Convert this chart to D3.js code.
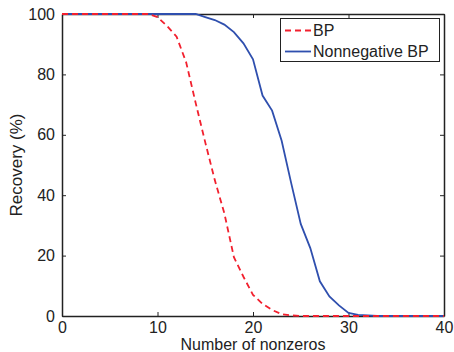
<!DOCTYPE html>
<html>
<head>
<meta charset="utf-8">
<script src="https://cdn.jsdelivr.net/npm/d3@7"></script>
<style>
  body { margin: 0; background: #fff; }
  text { font-family: "Liberation Sans", Arial, sans-serif; fill: #222; }
</style>
</head>
<body>
<div id="chart"></div>
<script>
// Chart values
const nonzeros = d3.range(0, 41);
const bpRecovery = [100, 100, 100, 100, 100, 100, 100, 100, 100, 100,
    99, 96, 92.5, 84, 70.5, 57.5, 45, 34, 19.5, 13,
    7, 4, 2, 0.6, 0.2, 0, 0, 0, 0, 0,
    0, 0, 0, 0, 0, 0, 0, 0, 0, 0, 0];
const nnbpRecovery = [100, 100, 100, 100, 100, 100, 100, 100, 100, 100,
    100, 100, 100, 100, 100, 99, 98, 96.5, 94, 90.3,
    85, 73, 68, 58, 44, 30.5, 22.5, 11.5, 6.5, 3.5,
    1, 0.4, 0.2, 0, 0, 0, 0, 0, 0, 0, 0];
const xTicks = [0, 10, 20, 30, 40];
const yTicks = [0, 20, 40, 60, 80, 100];
const seriesNames = ["BP", "Nonnegative BP"];

// Set dimensions
const width = 454;
const height = 352;
const margin = { top: 14, right: 10, bottom: 36, left: 62 };

const svg = d3.select("#chart")
    .append("svg")
    .attr("width", width)
    .attr("height", height);

const x = d3.scaleLinear().domain([0, 40]).range([margin.left, width - margin.right]);
const y = d3.scaleLinear().domain([0, 100]).range([height - margin.bottom, margin.top]);

const axisColor = "#222";

// Axes with inward ticks (box on all four sides)
const axisBottomG = svg.append("g")
    .attr("transform", `translate(0,${y(0)})`)
    .call(d3.axisBottom(x).tickValues(xTicks).tickSizeInner(-4).tickSizeOuter(0).tickPadding(6));
const axisTopG = svg.append("g")
    .attr("transform", `translate(0,${y(100)})`)
    .call(d3.axisTop(x).tickValues(xTicks).tickSizeInner(-4).tickSizeOuter(0).tickFormat(""));
const axisLeftG = svg.append("g")
    .attr("transform", `translate(${x(0)},0)`)
    .call(d3.axisLeft(y).tickValues(yTicks).tickSizeInner(-4).tickSizeOuter(0).tickPadding(7));
const axisRightG = svg.append("g")
    .attr("transform", `translate(${x(40)},0)`)
    .call(d3.axisRight(y).tickValues(yTicks).tickSizeInner(-4).tickSizeOuter(0).tickFormat(""));

[axisBottomG, axisTopG, axisLeftG, axisRightG].forEach(g => {
    g.selectAll("path").attr("stroke", axisColor).attr("stroke-width", 1.5);
    g.selectAll("line").attr("stroke", axisColor);
    g.selectAll("text").style("font-size", "16px").attr("fill", "#222");
});

// Lines
const line = d3.line().x((d, i) => x(nonzeros[i])).y(d => y(d));

svg.append("path")
    .datum(nnbpRecovery)
    .attr("fill", "none")
    .attr("stroke", "#2f4fae")
    .attr("stroke-width", 1.8)
    .attr("d", line);

svg.append("path")
    .datum(bpRecovery)
    .attr("fill", "none")
    .attr("stroke", "#f2202e")
    .attr("stroke-width", 1.8)
    .attr("stroke-dasharray", "6,4")
    .attr("d", line);

// Axis labels
svg.append("text")
    .attr("x", (x(0) + x(40)) / 2)
    .attr("y", 350)
    .attr("text-anchor", "middle")
    .style("font-size", "16px")
    .text("Number of nonzeros");

svg.append("text")
    .attr("transform", `translate(22,${(y(0) + y(100)) / 2}) rotate(-90)`)
    .attr("text-anchor", "middle")
    .style("font-size", "17px")
    .text("Recovery (%)");

// Legend
const legend = svg.append("g");
legend.append("rect")
    .attr("x", 280.5).attr("y", 18.5)
    .attr("width", 159).attr("height", 43)
    .attr("fill", "#fff")
    .attr("stroke", axisColor)
    .attr("stroke-width", 1);

const legendStyles = [
    { color: "#f2202e", dash: "6,4" },
    { color: "#2f4fae", dash: null }
];
seriesNames.forEach((name, i) => {
    const ly = 30.5 + i * 21;
    legend.append("line")
        .attr("x1", 285).attr("x2", 311)
        .attr("y1", ly).attr("y2", ly)
        .attr("stroke", legendStyles[i].color)
        .attr("stroke-width", 1.8)
        .attr("stroke-dasharray", legendStyles[i].dash);
    legend.append("text")
        .attr("x", 313)
        .attr("y", ly)
        .attr("dy", "0.35em")
        .style("font-size", "16px")
        .text(name);
});
</script>
</body>
</html>
